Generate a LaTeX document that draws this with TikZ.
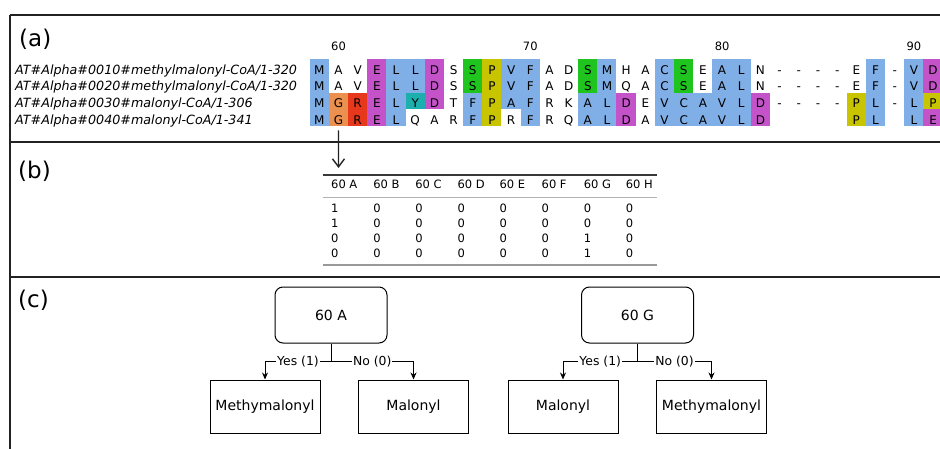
\documentclass[tikz,border=0pt]{standalone}
\usepackage{fontspec}
\setmainfont{DejaVu Sans}
\usetikzlibrary{arrows.meta, positioning}

\definecolor{clB}{HTML}{80AEE6}
\definecolor{clM}{HTML}{C452C8}
\definecolor{clG}{HTML}{1FC41F}
\definecolor{clY}{HTML}{C8C400}
\definecolor{clO}{HTML}{EC9050}
\definecolor{clR}{HTML}{E8381C}
\definecolor{clC}{HTML}{1DAEAE}
\definecolor{clW}{HTML}{FFFFFF}
\definecolor{rulegrey}{HTML}{222222}

\begin{document}
\begin{tikzpicture}[x=1pt, y=-1pt,
  frame/.style={draw=rulegrey, line width=2pt},
  panel/.style={anchor=base west, inner sep=0pt, font=\fontsize{23}{26}\selectfont},
  seqname/.style={anchor=base west, inner sep=0pt, font=\fontsize{12.7}{15}\selectfont\itshape},
  res/.style={minimum width=19.4pt, minimum height=16.8pt, inner sep=0pt, text height=13.2pt, text depth=0pt, font=\fontsize{12}{14}\selectfont},
  ruler/.style={anchor=base, inner sep=0pt, font=\fontsize{11.5}{13}\selectfont},
  cell/.style={anchor=west, inner sep=0pt, font=\fontsize{11.5}{13}\selectfont},
  pointer/.style={draw=rulegrey, line width=1.4pt, -{Straight Barb[length=8pt, width=12pt]}},
  decision/.style={draw, line width=1pt, rounded corners=8pt, minimum width=112pt, minimum height=56pt, font=\fontsize{14}{16}\selectfont},
  leaf/.style={draw, line width=1pt, minimum width=110pt, minimum height=53pt, font=\fontsize{14}{16}\selectfont},
  answer/.style={fill=white, inner sep=1pt, font=\fontsize{12.4}{14}\selectfont},
  stem/.style={draw, line width=1pt},
  branch/.style={draw, line width=1pt, -{Stealth[length=7pt, width=6pt]}}]
\useasboundingbox (0,0) rectangle (940,449);

% Frame and panel separators
\draw[frame] (10,15) -- (940,15);
\draw[frame] (10,15) -- (10,449);
\draw[frame] (10,142.3) -- (940,142.3);
\draw[frame] (10,276.5) -- (940,276.5);
\node[panel] (labela) at (19,47) {(a)};
\node[panel] (labelb) at (18,178.5) {(b)};
\node[panel] (labelc) at (18,307) {(c)};

% (a) alignment: names, ruler, residues
\node[seqname] (name1) at (15,74.3)  {AT\#Alpha\#0010\#methylmalonyl-CoA/1-320};
\node[seqname] (name2) at (15,91)    {AT\#Alpha\#0020\#methylmalonyl-CoA/1-320};
\node[seqname] (name3) at (15,107.6) {AT\#Alpha\#0030\#malonyl-CoA/1-306};
\node[seqname] (name4) at (15,124.3) {AT\#Alpha\#0040\#malonyl-CoA/1-341};

\foreach \n [count=\k from 0] in {60,70,80,90}
  \node[ruler] (tick\n) at (338.5+191.8*\k, 50.7) {\n};

\foreach \res/\clr [count=\k from 0] in {M/B, A/W, V/W, E/M, L/B, L/B, D/M, S/W, S/G, P/Y, V/B, F/B, A/W, D/W, S/G, M/B, H/W, A/W, C/B, S/G, E/W, A/B, L/B, N/W, -/W, -/W, -/W, -/W, E/W, F/B, -/W, V/B, D/M}
  \node[res, fill=cl\clr] (s1c\k) at (319.3+19.18*\k, 67.65) {\res};
\foreach \res/\clr [count=\k from 0] in {M/B, A/W, V/W, E/M, L/B, L/B, D/M, S/W, S/G, P/Y, V/B, F/B, A/W, D/W, S/G, M/B, Q/W, A/W, C/B, S/G, E/W, A/B, L/B, N/W, -/W, -/W, -/W, -/W, E/W, F/B, -/W, V/B, D/M}
  \node[res, fill=cl\clr] (s2c\k) at (319.3+19.18*\k, 84.32) {\res};
\foreach \res/\clr [count=\k from 0] in {M/B, G/O, R/R, E/M, L/B, Y/C, D/M, T/W, F/B, P/Y, A/B, F/B, R/W, K/W, A/B, L/B, D/M, E/W, V/B, C/B, A/B, V/B, L/B, D/M, -/W, -/W, -/W, -/W, P/Y, L/B, -/W, L/B, P/Y}
  \node[res, fill=cl\clr] (s3c\k) at (319.3+19.18*\k, 100.99) {\res};
\foreach \res/\clr [count=\k from 0] in {M/B, G/O, R/R, E/M, L/B, Q/W, A/W, R/W, F/B, P/Y, R/W, F/B, R/W, Q/W, A/B, L/B, D/M, A/W, V/B, C/B, A/B, V/B, L/B, D/M, {}/W, {}/W, {}/W, {}/W, P/Y, L/B, {}/W, L/B, E/M}
  \node[res, fill=cl\clr] (s4c\k) at (319.3+19.18*\k, 117.66) {\res};

% (b) one-hot table for position 60
\coordinate (pickend) at (338.5,168);
\draw[pointer] ([yshift=-4pt]s4c1.south) -- (pickend);

\draw[draw=rulegrey!90, line width=2pt] (322.7,175.5) -- (657,175.5);
\draw[draw=gray!60, line width=0.8pt] (322.7,197.3) -- (657,197.3);
\draw[draw=gray!80, line width=2pt] (322.7,265.5) -- (657,265.5);

\foreach \c [count=\k from 0] in {A,B,C,D,E,F,G,H}
  \node[cell] (hd\c) at (331+42.1*\k, 184) {60 \c};
\foreach \v [count=\k from 0] in {1,0,0,0,0,0,0,0}
  \node[cell] (v1c\k) at (331+42.1*\k, 208.5) {\v};
\foreach \v [count=\k from 0] in {1,0,0,0,0,0,0,0}
  \node[cell] (v2c\k) at (331+42.1*\k, 223.5) {\v};
\foreach \v [count=\k from 0] in {0,0,0,0,0,0,1,0}
  \node[cell] (v3c\k) at (331+42.1*\k, 238.5) {\v};
\foreach \v [count=\k from 0] in {0,0,0,0,0,0,1,0}
  \node[cell] (v4c\k) at (331+42.1*\k, 253.5) {\v};

% (c) decision stumps
\node[decision] (roota) at (331,315) {60 A};
\node[leaf, below=36pt of roota, xshift=-66pt] (metha) {Methymalonyl};
\node[leaf, below=36pt of roota, xshift=82.5pt] (mala) {Malonyl};
\coordinate (forka) at ([yshift=-18pt]roota.south);
\draw[stem] (roota) -- (forka);
\draw[branch] (forka) -| node[answer, pos=0.25] {Yes (1)} (metha);
\draw[branch] (forka) -| node[answer, pos=0.25] {No (0)} (mala);

\node[decision] (rootg) at (637.5,315) {60 G};
\node[leaf, below=36pt of rootg, xshift=-74.5pt] (malg) {Malonyl};
\node[leaf, below=36pt of rootg, xshift=74pt] (methg) {Methymalonyl};
\coordinate (forkg) at ([yshift=-18pt]rootg.south);
\draw[stem] (rootg) -- (forkg);
\draw[branch] (forkg) -| node[answer, pos=0.25] {Yes (1)} (malg);
\draw[branch] (forkg) -| node[answer, pos=0.25] {No (0)} (methg);
\end{tikzpicture}
\end{document}
